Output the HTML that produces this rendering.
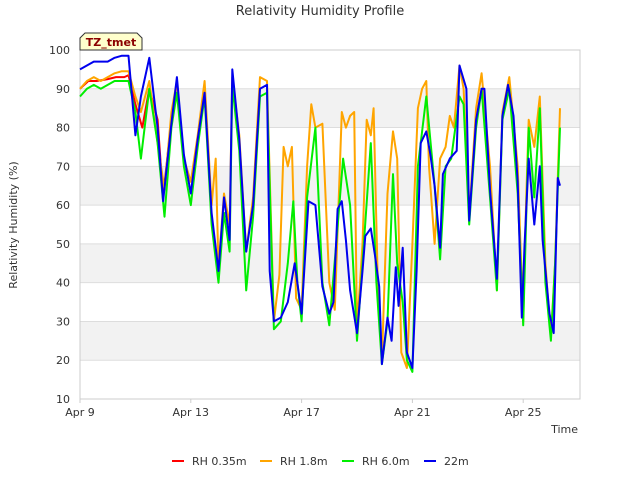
<!DOCTYPE html>
<html><head><meta charset="utf-8"><style>
body{margin:0;background:#fff;font-family:"Liberation Sans","DejaVu Sans",sans-serif;}
svg text{font-family:"DejaVu Sans","Liberation Sans",sans-serif;}
</style></head><body>
<svg id="chart" width="640" height="480" viewBox="0 0 640 480">
<text x="320" y="15" text-anchor="middle" font-size="13" fill="#333">Relativity Humidity Profile</text>
<g id="bands"></g>
<g id="grid"></g>
<rect x="80" y="50" width="500" height="349" fill="none" stroke="#ccc"/>
<g id="yticks"></g><g id="xticks"></g>
<text x="17" y="225" transform="rotate(-90 17 225)" text-anchor="middle" font-size="11" fill="#333">Relativity Humidity (%)</text>
<text x="578" y="433" text-anchor="end" font-size="11" fill="#333">Time</text>
<g id="series"></g>
<g>
<path d="M80,50 L80,38 L85,33 L137,33 L142,38 L142,50 Z" fill="#ffffcc" stroke="#333" stroke-width="1"/>
<text x="111" y="46" text-anchor="middle" font-size="11" font-weight="bold" fill="#8b0000">TZ_tmet</text>
</g>
<g id="legend"></g>
</svg>
<script>
const yTicks=[10,20,30,40,50,60,70,80,90,100];
const xTickDays=[0,4,8,12,16];
const xTickLabels=["Apr 9","Apr 13","Apr 17","Apr 21","Apr 25"];
const seriesNames=["RH 0.35m","RH 1.8m","RH 6.0m","22m"];
const seriesColors=["#ff0000","#ffa500","#00ee00","#0000ee"];
const tRed=[0,0.3,0.6,1,1.3,1.6,1.75,2.0,2.25,2.5,2.8,3.0,3.3,3.5];
const vRed=[90,92,92,92.5,93,93,93.5,86,80,90,82,62,82,92];
const tOrange=[0,0.25,0.5,0.75,1,1.25,1.5,1.75,2,2.2,2.5,2.8,3.05,3.3,3.5,3.75,4,4.25,4.5,4.75,4.9,5.0,5.2,5.4,5.5,5.75,6,6.25,6.5,6.75,7,7.2,7.35,7.5,7.65,7.8,8,8.2,8.35,8.5,8.75,9,9.2,9.45,9.6,9.75,9.9,10,10.2,10.35,10.5,10.6,10.75,10.9,11.1,11.3,11.45,11.6,11.8,12,12.2,12.35,12.5,12.6,12.8,13,13.2,13.35,13.5,13.7,13.85,14.05,14.3,14.5,14.8,15.05,15.25,15.5,15.8,16,16.1,16.2,16.4,16.6,16.8,17,17.15,17.33];
const vOrange=[90,92,93,92,93,94,94.5,94.5,88,84,92,76,64,84,92,72,66,78,92,60,72,44,63,55,93,78,48,62,93,92,30,42,75,70,75,36,33,70,86,80,81,40,33,84,80,83,84,28,50,82,78,85,40,20,63,79,72,22,18,50,85,90,92,70,50,72,75,83,80,96,90,57,85,94,70,38,84,93,70,30,60,82,75,88,45,26,45,85];
const tGreen=[0,0.25,0.5,0.75,1,1.25,1.5,1.75,2,2.2,2.5,2.8,3.05,3.3,3.5,3.75,4,4.25,4.5,4.75,5.0,5.2,5.4,5.5,5.75,6,6.25,6.5,6.75,7,7.25,7.5,7.7,7.85,8,8.2,8.5,8.75,9,9.25,9.5,9.75,10,10.2,10.5,10.7,10.9,11.1,11.3,11.45,11.65,11.8,12,12.2,12.5,12.8,13,13.2,13.4,13.7,13.85,14.05,14.3,14.5,14.8,15.05,15.25,15.5,15.8,16,16.2,16.4,16.6,16.8,17,17.15,17.33];
const vGreen=[88,90,91,90,91,92,92,92,84,72,90,76,57,80,89,70,60,75,88,55,40,58,48,91,74,38,57,88,89,28,30,45,61,40,30,62,80,40,29,50,72,60,25,45,76,40,19,30,68,45,35,20,17,70,88,65,46,70,72,88,86,55,80,90,62,38,82,90,63,29,80,62,85,40,25,45,80];
const tBlue=[0,0.25,0.5,0.75,1,1.25,1.5,1.75,2.0,2.2,2.5,2.8,3.0,3.3,3.5,3.75,4.0,4.25,4.5,4.75,5.0,5.2,5.4,5.5,5.75,6.0,6.25,6.5,6.75,6.85,7.0,7.25,7.5,7.75,8.0,8.25,8.5,8.75,9.0,9.15,9.3,9.45,9.6,9.75,10.0,10.2,10.3,10.5,10.65,10.8,10.9,11.1,11.25,11.4,11.5,11.65,11.8,12.0,12.15,12.3,12.5,12.65,12.8,13.0,13.1,13.35,13.6,13.7,13.95,14.05,14.3,14.5,14.6,14.8,15.05,15.25,15.45,15.65,15.8,15.95,16.05,16.2,16.4,16.6,16.7,16.95,17.1,17.25,17.33];
const vBlue=[95,96,97,97,97,98,98.5,98.5,78,88,98,80,61,81,93,73,63,77,89,58,43,62,51,95,77,48,60,90,91,43,30,31,35,45,32,61,60,39,32,35,59,61,51,38,27,43,52,54,47,39,19,31,25,44,34,49,22,18,43,76,79,73,65,49,68,72,74,96,90,56,82,90,90,64,41,83,91,83,66,31,50,72,55,70,51,32,27,67,65];

const NS="http://www.w3.org/2000/svg";
const X0=80,X1=580,Y0=399,Y1=50,DMAX=500/27.7;
const xs=d=>X0+d*27.7;
const ys=v=>Y0-(v-10)*(Y0-Y1)/90;
function mk(tag,attrs,parent){const e=document.createElementNS(NS,tag);for(const k in attrs)e.setAttribute(k,attrs[k]);parent.appendChild(e);return e;}
const bands=document.getElementById('bands'),grid=document.getElementById('grid');
for(let i=0;i<yTicks.length-1;i++){
  if(i%2===1){const r=mk('rect',{x:X0,y:ys(yTicks[i+1]),width:X1-X0,height:ys(yTicks[i])-ys(yTicks[i+1]),fill:'#f2f2f2'},bands);
  
  }
}
const yt=document.getElementById('yticks');
yTicks.forEach(v=>{
  const l=mk('line',{x1:X0,x2:X1,y1:ys(v),y2:ys(v),stroke:'#ddd'},grid);
  
  
  const t=mk('text',{x:70,y:ys(v)+4,'text-anchor':'end','font-size':11,fill:'#333'},yt);
  t.textContent=v;
  
  
});
const xt=document.getElementById('xticks');
xTickDays.forEach((d,i)=>{
  mk('line',{x1:xs(d),x2:xs(d),y1:Y0,y2:Y0+4,stroke:'#ccc'},xt);
  const t=mk('text',{x:xs(d),y:416,'text-anchor':'middle','font-size':11,fill:'#333'},xt);
  t.textContent=xTickLabels[i];
  
  
});
const sg=document.getElementById('series');
const data=[[tRed,vRed],[tOrange,vOrange],[tGreen,vGreen],[tBlue,vBlue]];
data.forEach((s,i)=>{
  const pts=s[0].map((t,j)=>xs(t).toFixed(1)+','+ys(s[1][j]).toFixed(1)).join(' ');
  const p=mk('polyline',{points:pts,fill:'none',stroke:seriesColors[i],'stroke-width':2,'stroke-linejoin':'round'},sg);
  
  
});
const lg=document.getElementById('legend');
const lx=[172,260,342,424];
seriesNames.forEach((n,i)=>{
  const g=mk('g',{},lg);
  
  
  mk('line',{x1:lx[i],x2:lx[i]+12,y1:461,y2:461,stroke:seriesColors[i],'stroke-width':2},g);
  const t=mk('text',{x:lx[i]+20,y:465,'font-size':11,fill:'#333'},g);
  t.textContent=n;
});
</script>
</body></html>
